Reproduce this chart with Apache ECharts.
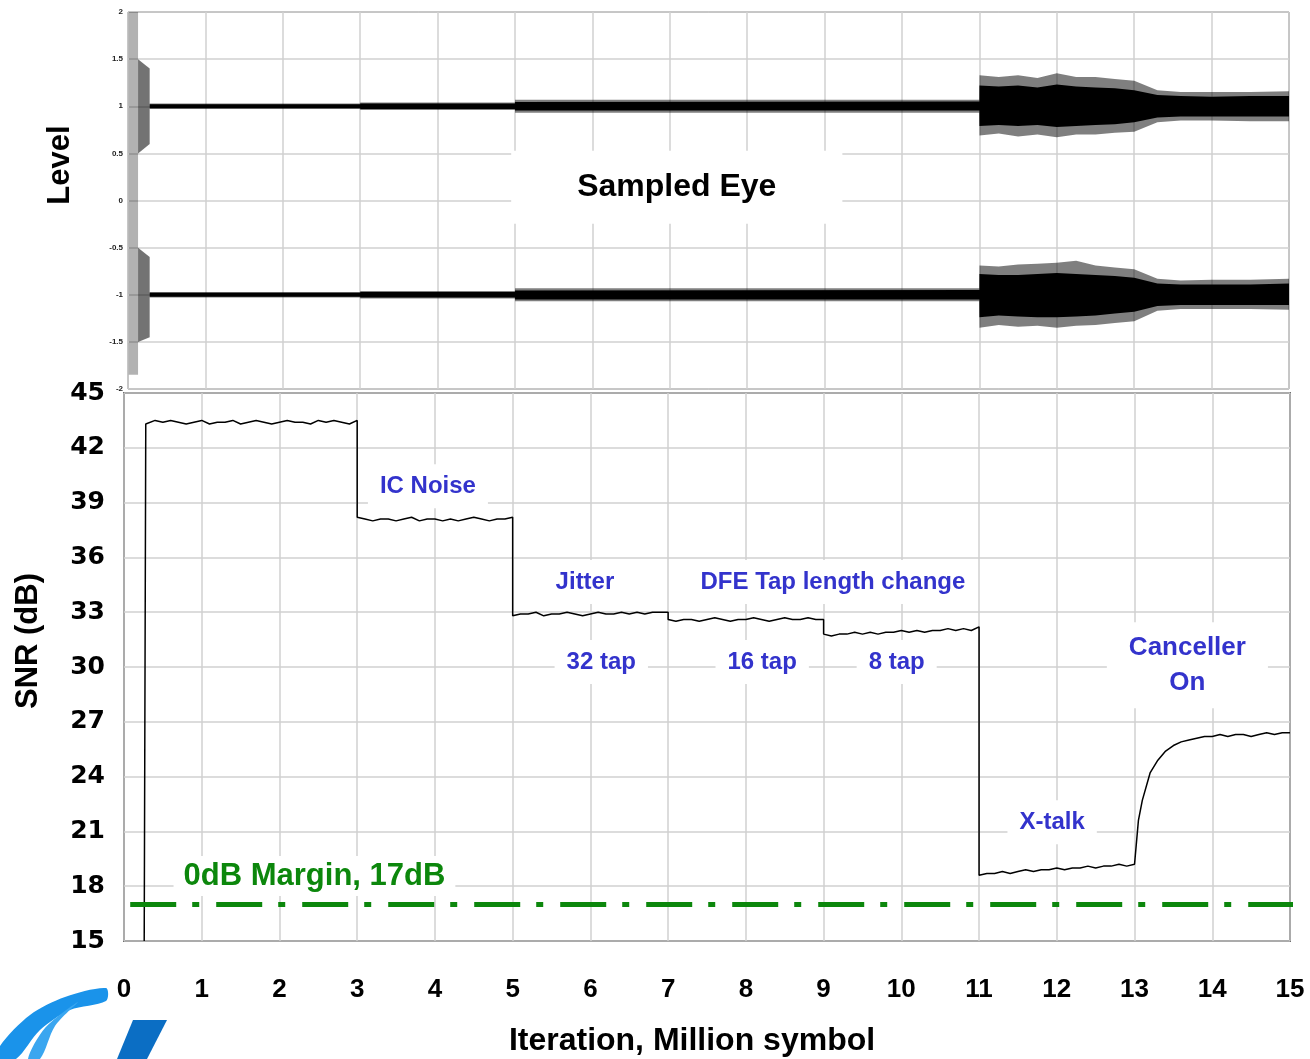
<!DOCTYPE html>
<html>
<head>
<meta charset="utf-8">
<script src="https://cdn.jsdelivr.net/npm/echarts@6/dist/echarts.min.js"></script>
<style>
  html, body { margin: 0; padding: 0; background: #fff; }
  #chart { width: 1310px; height: 1059px; }
</style>
</head>
<body>
<div id="chart"></div>
<script>
// ---- SNR trace (dB vs million symbols) ----
const snrRise = [[0.26, 15], [0.28, 43.3]];
const snrStep = 0.1;
const snrStarts = [0.3, 3.0, 5.0, 7.0, 9.0, 11.0];
const snrStart = [43.3, 43.5, 43.4, 43.5, 43.4, 43.3, 43.4, 43.5, 43.3, 43.4, 43.4, 43.5, 43.3, 43.4, 43.5, 43.4, 43.3, 43.4, 43.5, 43.4, 43.4, 43.3, 43.5, 43.4, 43.5, 43.4, 43.3, 43.5];
const snrIcNoise = [38.2, 38.1, 38.0, 38.1, 38.1, 38.0, 38.1, 38.2, 38.0, 38.1, 38.1, 38.0, 38.1, 38.0, 38.1, 38.2, 38.1, 38.0, 38.1, 38.1, 38.2];
const snrTap32 = [32.8, 32.9, 32.9, 33.0, 32.8, 32.9, 32.9, 33.0, 32.9, 32.8, 32.9, 33.0, 32.9, 32.9, 33.0, 32.9, 33.0, 32.9, 33.0, 33.0, 33.0];
const snrTap16 = [32.6, 32.5, 32.6, 32.6, 32.5, 32.6, 32.7, 32.6, 32.5, 32.6, 32.6, 32.7, 32.6, 32.5, 32.6, 32.7, 32.6, 32.6, 32.7, 32.6, 32.6];
const snrTap8 = [31.8, 31.7, 31.8, 31.8, 31.9, 31.8, 31.9, 31.8, 31.9, 31.9, 32.0, 31.9, 32.0, 31.9, 32.0, 32.0, 32.1, 32.0, 32.1, 32.0, 32.2];
const snrXtalk = [18.6, 18.7, 18.7, 18.8, 18.7, 18.8, 18.9, 18.8, 18.9, 18.9, 19.0, 18.9, 19.0, 19.0, 19.1, 19.0, 19.1, 19.1, 19.2, 19.1, 19.2];
const snrCanceller = [[13.0, 19.3], [13.05, 21.6], [13.1, 22.7], [13.2, 24.2], [13.3, 24.9], [13.4, 25.4],
  [13.5, 25.7], [13.6, 25.9], [13.7, 26.0], [13.8, 26.1], [13.9, 26.2], [14.0, 26.2], [14.1, 26.3],
  [14.2, 26.2], [14.3, 26.3], [14.4, 26.3], [14.5, 26.2], [14.6, 26.3], [14.7, 26.4], [14.8, 26.3],
  [14.9, 26.4], [15.0, 26.4]];
const marginDb = 17;
const marginSpan = [0.08, 15.1];

// ---- sampled eye envelopes (level) ----
const eyeX = [0.28, 3.0, 3.001, 5.0, 5.001, 11.0, 11.001, 11.25, 11.5, 11.75, 12.0, 12.25, 12.5, 12.75, 13.0, 13.3, 13.6, 14.0, 14.5, 15.0];
const upCoreLo = [0.98, 0.98, 0.97, 0.97, 0.955, 0.955, 0.79, 0.80, 0.79, 0.80, 0.78, 0.79, 0.80, 0.81, 0.83, 0.88, 0.89, 0.89, 0.89, 0.89];
const upCoreHi = [1.02, 1.02, 1.03, 1.03, 1.045, 1.05, 1.22, 1.21, 1.22, 1.20, 1.23, 1.21, 1.20, 1.19, 1.17, 1.12, 1.11, 1.10, 1.11, 1.11];
const upHaloLo = [0.97, 0.97, 0.96, 0.96, 0.93, 0.93, 0.69, 0.71, 0.68, 0.70, 0.67, 0.70, 0.70, 0.72, 0.73, 0.83, 0.85, 0.85, 0.84, 0.84];
const upHaloHi = [1.03, 1.03, 1.04, 1.04, 1.07, 1.07, 1.33, 1.31, 1.33, 1.30, 1.35, 1.31, 1.31, 1.29, 1.27, 1.17, 1.15, 1.15, 1.15, 1.16];
const dnCoreLo = [-1.02, -1.02, -1.03, -1.03, -1.05, -1.05, -1.24, -1.22, -1.23, -1.24, -1.24, -1.23, -1.22, -1.20, -1.18, -1.12, -1.11, -1.11, -1.11, -1.11];
const dnCoreHi = [-0.98, -0.98, -0.97, -0.97, -0.955, -0.95, -0.78, -0.79, -0.79, -0.78, -0.77, -0.78, -0.79, -0.80, -0.82, -0.88, -0.89, -0.89, -0.89, -0.88];
const dnHaloLo = [-1.03, -1.03, -1.04, -1.04, -1.07, -1.07, -1.35, -1.32, -1.34, -1.33, -1.35, -1.33, -1.32, -1.30, -1.28, -1.17, -1.15, -1.15, -1.15, -1.16];
const dnHaloHi = [-0.97, -0.97, -0.96, -0.96, -0.93, -0.93, -0.69, -0.70, -0.68, -0.67, -0.66, -0.64, -0.69, -0.71, -0.73, -0.83, -0.85, -0.84, -0.84, -0.83];
// start-up burst before the loops converge
const burstX = [0.01, 0.13];
const burstLo = [-1.85, -1.85];
const burstHi = [2.0, 2.0];
const acqX = [0.13, 0.28];
const acqUpLo = [0.5, 0.6];
const acqUpHi = [1.5, 1.4];
const acqDnLo = [-1.5, -1.45];
const acqDnHi = [-0.5, -0.6];

// ---- notes ----
const noteText = ['IC Noise', 'Jitter', 'DFE Tap length change', '32 tap', '16 tap', '8 tap', 'X-talk'];
const noteX = [3.91, 5.93, 9.12, 6.14, 8.21, 9.94, 11.94];
const noteY = [39.9, 34.65, 34.65, 30.27, 30.27, 30.27, 21.5];
const cancelNote = ['Canceller\nOn', 13.68, 30.1];
const marginNote = ['0dB Margin, 17dB', 2.45, 18.56];
const eyeNote = ['Sampled Eye', 7.09, 0.14];

const FONT = 'Liberation Sans, Arial, sans-serif';
const BLUE = '#3333cc';
const GREEN = '#0c870c';

const snrData = snrRise.slice();
[snrStart, snrIcNoise, snrTap32, snrTap16, snrTap8, snrXtalk].forEach((seg, i) => {
  seg.forEach((v, k) => snrData.push([+(snrStarts[i] + k * snrStep).toFixed(3), v]));
});
snrCanceller.forEach(p => snrData.push(p));

// filled band between a lower and upper envelope, drawn as one polygon
function band(xs, lo, hi, color, opacity) {
  return {
    type: 'custom', xAxisIndex: 0, yAxisIndex: 0, silent: true, clip: true,
    data: xs.map((x, i) => [x, lo[i], hi[i]]),
    encode: { x: 0, y: [1, 2] },
    renderItem: (params, api) => {
      if (params.dataIndexInside !== 0) return null;
      const n = params.dataInsideLength;
      const top = [], bot = [];
      for (let i = 0; i < n; i++) {
        top.push(api.coord([api.value(0, i), api.value(2, i)]));
        bot.push(api.coord([api.value(0, i), api.value(1, i)]));
      }
      return {
        type: 'polygon',
        shape: { points: top.concat(bot.reverse()) },
        style: { fill: color, opacity: opacity }
      };
    }
  };
}

function notes(xi, yi, data, color, size, pad, lh) {
  return {
    type: 'scatter', xAxisIndex: xi, yAxisIndex: yi, z: 10, symbolSize: 1,
    itemStyle: { color: 'rgba(0,0,0,0)', opacity: 1 },
    data: data,
    label: { show: true, position: 'inside', formatter: p => p.data[2], fontFamily: FONT, fontWeight: 'bold',
      fontSize: size, lineHeight: lh || Math.round(size * 1.35), color: color, backgroundColor: '#fff', padding: pad }
  };
}

const chart = echarts.init(document.getElementById('chart'));

const gridLine = { show: true, lineStyle: { color: '#d0d0d0', width: 1.5 } };

const option = {
  backgroundColor: '#fff',
  animation: false,
  grid: [
    { left: 128, right: 21, top: 12, height: 377, show: true, borderColor: '#555', borderWidth: 1 },
    { left: 124, right: 20, top: 393, height: 548, show: true, borderColor: '#000', borderWidth: 1.5 }
  ],
  xAxis: [
    { gridIndex: 0, type: 'value', min: 0, max: 15, interval: 1,
      axisLine: { show: false }, axisTick: { show: false }, axisLabel: { show: false }, splitLine: gridLine },
    { gridIndex: 1, type: 'value', min: 0, max: 15, interval: 1,
      axisLine: { show: false }, axisTick: { show: false }, splitLine: gridLine,
      axisLabel: { margin: 36, fontFamily: FONT, fontWeight: 'bold', fontSize: 26, color: '#000' } }
  ],
  yAxis: [
    { gridIndex: 0, type: 'value', min: -2, max: 2, interval: 0.5,
      axisLine: { show: false }, axisTick: { show: false }, splitLine: gridLine,
      axisLabel: { margin: 5, fontFamily: FONT, fontWeight: 'bold', fontSize: 8, color: '#222' } },
    { gridIndex: 1, type: 'value', min: 15, max: 45, interval: 3,
      axisLine: { show: false }, axisTick: { show: false }, splitLine: gridLine,
      axisLabel: { margin: 19, fontFamily: 'DejaVu Sans, sans-serif', fontWeight: 'bold', fontSize: 25, color: '#000' } }
  ],
  graphic: [
    { type: 'text', x: 60, y: 165, rotation: Math.PI / 2,
      style: { text: 'Level', font: 'bold 31px ' + FONT, fill: '#000', textAlign: 'center', textVerticalAlign: 'middle' } },
    { type: 'text', x: 28, y: 641, rotation: Math.PI / 2,
      style: { text: 'SNR (dB)', font: 'bold 31px ' + FONT, fill: '#000', textAlign: 'center', textVerticalAlign: 'middle' } },
    { type: 'text', x: 692, y: 1041,
      style: { text: 'Iteration, Million symbol', font: 'bold 32px ' + FONT, fill: '#000', textAlign: 'center', textVerticalAlign: 'middle' } },
    // logo swooshes
    { type: 'polygon', shape: { smooth: 0.3, points: [[0, 1059], [0, 1046], [30, 1015], [65, 997], [106, 988], [106, 1001], [70, 1010], [40, 1030], [16, 1059]] },
      style: { fill: '#1a93ea' } },
    { type: 'polygon', shape: { smooth: 0.3, points: [[28, 1059], [45, 1028], [78, 1002], [55, 1026], [40, 1059]] },
      style: { fill: '#3aa6f0' } },
    { type: 'polygon', shape: { points: [[133, 1020], [167, 1020], [147, 1059], [117, 1059]] },
      style: { fill: '#0b6ec4' } }
  ],
  series: [
    band(burstX, burstLo, burstHi, '#000', 0.3),
    band(acqX, acqUpLo, acqUpHi, '#000', 0.55),
    band(acqX, acqDnLo, acqDnHi, '#000', 0.55),
    band(eyeX, upHaloLo, upHaloHi, '#000', 0.5),
    band(eyeX, upCoreLo, upCoreHi, '#000', 1),
    band(eyeX, dnHaloLo, dnHaloHi, '#000', 0.5),
    band(eyeX, dnCoreLo, dnCoreHi, '#000', 1),
    notes(0, 0, [[eyeNote[1], eyeNote[2], eyeNote[0]]], '#000', 32, [15, 66]),
    { type: 'line', xAxisIndex: 1, yAxisIndex: 1, symbol: 'none', data: snrData,
      lineStyle: { color: '#000', width: 1.5 } },
    { type: 'line', xAxisIndex: 1, yAxisIndex: 1, symbol: 'none', clip: false, z: 4,
      data: marginSpan.map(x => [x, marginDb]),
      lineStyle: { color: GREEN, width: 5, type: [46, 16, 7, 17] } },
    notes(1, 1, noteText.map((t, i) => [noteX[i], noteY[i], t]), BLUE, 24, [6, 12]),
    notes(1, 1, [[cancelNote[1], cancelNote[2], cancelNote[0]]], BLUE, 26, [8, 22]),
    notes(1, 1, [[marginNote[1], marginNote[2], marginNote[0]]], GREEN, 31, [4, 10, 2, 10], 34)
  ]
};

chart.setOption(option);
</script>
</body>
</html>
